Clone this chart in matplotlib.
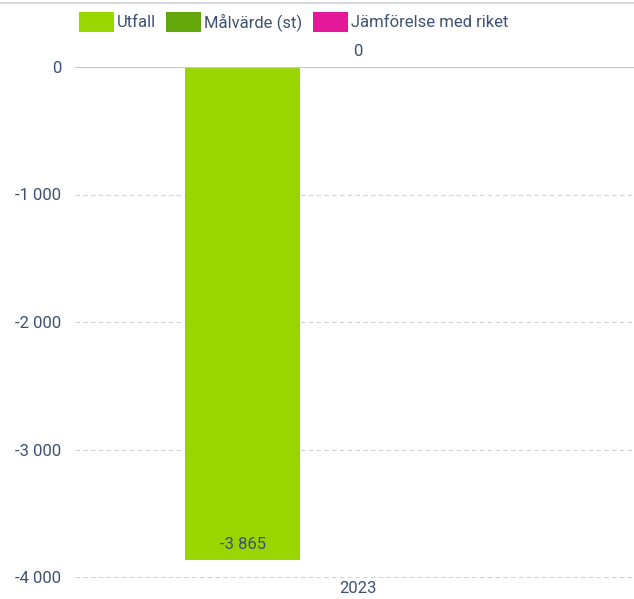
import matplotlib.pyplot as plt
from matplotlib.lines import Line2D
from matplotlib.patches import Patch

# data
categories = ["2023"]
series_names = ["Utfall", "Målvärde (st)", "Jämförelse med riket"]
series_colors = ["#99d600", "#64a70b", "#e4199a"]
utfall = [-3865]
malvarde = [0]
jamforelse = [None]
yticks = [0, -1000, -2000, -3000, -4000]

text_color = "#3d5170"
plt.rcParams['font.family'] = ['Roboto', 'DejaVu Sans']


def fmt(v):
    s = f"{abs(v):,.0f}".replace(",", " ")
    return ("-" if v < 0 else "") + s


fig = plt.figure(figsize=(6.34, 5.99), dpi=100)
W, H = 634, 599
ax = fig.add_axes([75 / W, 1 - 577 / H, (634 - 75) / W, (577 - 67) / H])

ax.set_ylim(-4000, 0)
ax.set_xlim(-2.457, 2.404)

values = [utfall, malvarde, jamforelse]
offsets = [-1, 0, 1]
for vals, off, col in zip(values, offsets, series_colors):
    for i, v in enumerate(vals):
        if v is None:
            continue
        ax.bar(i + off, v, width=1.0, color=col, zorder=2)
        if v < 0:
            ax.text(i + off, v + 60, fmt(v), ha='center', va='bottom',
                    fontsize=12, color=text_color, zorder=3)
        else:
            ax.text(i + off, v + 60, fmt(v), ha='center', va='bottom',
                    fontsize=12, color=text_color, zorder=3, clip_on=False)

ax.set_yticks(yticks)
ax.set_yticklabels([fmt(t) for t in yticks], fontsize=12, color=text_color)
ax.set_xticks(range(len(categories)))
ax.set_xticklabels(categories, fontsize=12, color=text_color)
ax.tick_params(axis='y', length=0, pad=10)
ax.tick_params(axis='x', length=0, pad=3)

for t in yticks[1:]:
    ax.axhline(t, color="#cfd4da", linewidth=0.8, linestyle=(0, (4, 3)),
               zorder=1, clip_on=False)
ax.axhline(0, color="#c0cad8", linewidth=1.6, zorder=3)

for s in ax.spines.values():
    s.set_visible(False)

# top border line
fig.add_artist(Line2D([0, 1], [1 - 3 / H, 1 - 3 / H], color="#d5d8dc", linewidth=1.5))

handles = [Patch(facecolor=c, edgecolor='none') for c in series_colors]
fig.legend(handles, series_names, loc='center left', bbox_to_anchor=(72 / W, 1 - 22 / H),
           ncol=3, frameon=False, fontsize=12, handlelength=2.1, handleheight=1.55,
           handletextpad=0.2, columnspacing=0.6, labelcolor=text_color,
           borderaxespad=0)

fig.savefig("out.png", dpi=100)
